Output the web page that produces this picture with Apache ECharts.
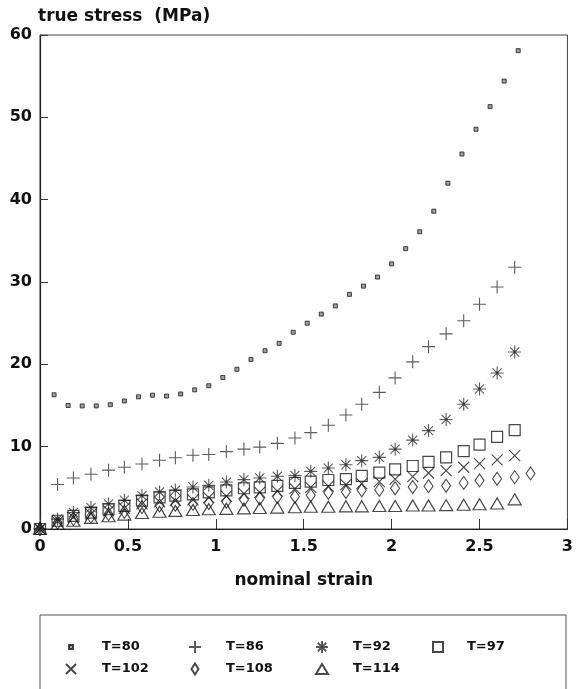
<!DOCTYPE html>
<html>
<head>
<meta charset="utf-8">
<script src="https://cdn.jsdelivr.net/npm/echarts@6/dist/echarts.min.js"></script>
<style>
  html, body { margin: 0; padding: 0; background: #fff; }
  #chart { width: 576px; height: 689px; }
</style>
</head>
<body>
<div id="chart"></div>
<script>
// Nominal strain grid for the T=80 run
const strainT80 = [0, 0.08, 0.16, 0.24, 0.32, 0.40, 0.48, 0.56, 0.64, 0.72, 0.80, 0.88,
  0.96, 1.04, 1.12, 1.20, 1.28, 1.36, 1.44, 1.52, 1.60, 1.68, 1.76, 1.84, 1.92, 2.00,
  2.08, 2.16, 2.24, 2.32, 2.40, 2.48, 2.56, 2.64, 2.72];
// Nominal strain grid shared by the other runs
const strain = [0, 0.10, 0.19, 0.29, 0.39, 0.48, 0.58, 0.68, 0.77, 0.87, 0.96, 1.06,
  1.16, 1.25, 1.35, 1.45, 1.54, 1.64, 1.74, 1.83, 1.93, 2.02, 2.12, 2.21, 2.31, 2.41,
  2.50, 2.60, 2.70, 2.79];

// True stress (MPa) per temperature
const stressT80 = [0, 16.3, 15.0, 14.95, 14.95, 15.1, 15.55, 16.05, 16.25, 16.15, 16.4,
  16.9, 17.4, 18.4, 19.4, 20.6, 21.65, 22.55, 23.9, 25.0, 26.1, 27.1, 28.5, 29.5, 30.6,
  32.2, 34.05, 36.1, 38.6, 42.0, 45.55, 48.55, 51.3, 54.4, 58.1];
const stressT86 = [0, 5.4, 6.2, 6.65, 7.15, 7.5, 7.9, 8.35, 8.65, 8.95, 9.05, 9.4, 9.7,
  9.95, 10.4, 11.05, 11.7, 12.6, 13.85, 15.15, 16.6, 18.35, 20.3, 22.15, 23.7, 25.3,
  27.3, 29.4, 31.8];
const stressT92 = [0, 1.2, 2.0, 2.6, 3.05, 3.5, 4.05, 4.5, 4.7, 5.1, 5.3, 5.7, 6.0, 6.2,
  6.4, 6.5, 7.0, 7.4, 7.8, 8.3, 8.7, 9.7, 10.8, 11.95, 13.3, 15.15, 17.0, 18.95, 21.5];
const stressT97 = [0, 1.0, 1.6, 2.0, 2.4, 2.8, 3.45, 3.85, 4.05, 4.2, 4.45, 4.7, 4.95,
  5.05, 5.25, 5.6, 5.75, 5.95, 6.05, 6.45, 6.85, 7.25, 7.65, 8.15, 8.7, 9.45, 10.25,
  11.2, 12.0];
const stressT102 = [0, 0.9, 1.4, 1.8, 2.2, 2.5, 3.05, 3.3, 3.45, 3.55, 3.8, 4.0, 4.3,
  4.45, 4.6, 4.9, 5.05, 5.2, 5.4, 5.5, 5.75, 6.05, 6.35, 6.8, 7.1, 7.5, 7.95, 8.4, 8.9];
const stressT108 = [0, 0.75, 1.2, 1.5, 1.8, 2.1, 2.65, 2.85, 2.95, 3.05, 3.15, 3.3,
  3.55, 3.7, 3.9, 3.95, 4.1, 4.4, 4.5, 4.7, 4.75, 4.95, 5.1, 5.2, 5.25, 5.6, 5.9, 6.1,
  6.3, 6.75];
const stressT114 = [0, 0.6, 1.0, 1.35, 1.55, 1.75, 1.95, 2.1, 2.2, 2.3, 2.4, 2.45, 2.5,
  2.55, 2.6, 2.65, 2.7, 2.7, 2.75, 2.75, 2.8, 2.8, 2.85, 2.85, 2.9, 2.95, 3.0, 3.1, 3.6];

const seriesNames = ['T=80', 'T=86', 'T=92', 'T=97', 'T=102', 'T=108', 'T=114'];
const xTicks = [0, 0.5, 1, 1.5, 2, 2.5, 3];
const yTicks = [0, 10, 20, 30, 40, 50, 60];

function pairs(xs, ys) {
  return ys.map((v, i) => [xs[i], v]);
}

// Marker outlines
const PLUS = 'path://M0,5L10,5M5,0L5,10';
const CROSS = 'path://M0,0L10,10M10,0L0,10';
const STAR = 'path://M5,0L5,10M0,5L10,5M1.5,1.5L8.5,8.5M8.5,1.5L1.5,8.5' +
  'M4.1,5A0.9,0.9 0 1,0 5.9,5A0.9,0.9 0 1,0 4.1,5Z';

const hollow = 'rgba(0,0,0,0)';
const ink = '#1a1a1a';
const font = 'DejaVu Sans';

const markerStyles = [
  { symbol: 'rect', symbolSize: 4, itemStyle: { color: '#888', borderColor: '#1a1a1a', borderWidth: 1 } },
  { symbol: PLUS, symbolSize: 13, itemStyle: { color: hollow, borderColor: '#333', borderWidth: 1.1 } },
  { symbol: STAR, symbolSize: 13, itemStyle: { color: '#111', borderColor: '#333', borderWidth: 1.1 } },
  { symbol: 'rect', symbolSize: 11, itemStyle: { color: hollow, borderColor: ink, borderWidth: 1.2 } },
  { symbol: CROSS, symbolSize: 11, itemStyle: { color: hollow, borderColor: ink, borderWidth: 1.1 } },
  { symbol: 'diamond', symbolSize: [9, 13], itemStyle: { color: hollow, borderColor: ink, borderWidth: 1.1 } },
  { symbol: 'triangle', symbolSize: [13, 11], itemStyle: { color: hollow, borderColor: ink, borderWidth: 1.2 } }
];

const seriesData = [
  pairs(strainT80, stressT80),
  pairs(strain, stressT86),
  pairs(strain, stressT92),
  pairs(strain, stressT97),
  pairs(strain, stressT102),
  pairs(strain, stressT108),
  pairs(strain, stressT114)
];

// Legend block: two rows, one legend component per entry
const legendLayout = [
  { cx: 70, tx: 101, cy: 647, w: 4, h: 4 },
  { cx: 194, tx: 225, cy: 647, w: 12, h: 12 },
  { cx: 321, tx: 352, cy: 647, w: 12, h: 12 },
  { cx: 437, tx: 466, cy: 647, w: 10, h: 10 },
  { cx: 70, tx: 101, cy: 669, w: 10, h: 10 },
  { cx: 194, tx: 225, cy: 669, w: 7, h: 11 },
  { cx: 321, tx: 352, cy: 669, w: 12, h: 10 }
];

const legends = legendLayout.map((L, i) => {
  const left = L.cx - L.w / 2;
  return {
    data: [seriesNames[i]],
    left: left,
    top: L.cy - 8,
    padding: 0,
    itemWidth: L.w,
    itemHeight: L.h,
    selectedMode: false,
    textStyle: {
      fontFamily: font, fontWeight: 'bold', fontSize: 13, color: '#111',
      lineHeight: 16, padding: [0, 0, 0, L.tx - (left + L.w + 5)]
    }
  };
});

const chart = echarts.init(document.getElementById('chart'), null, { renderer: 'canvas' });
chart.setOption({
  animation: false,
  backgroundColor: '#fff',
  grid: {
    left: 40, right: 6, top: 35, bottom: 160,
    show: true, borderColor: '#444', borderWidth: 1, backgroundColor: 'transparent'
  },
  xAxis: {
    type: 'value',
    min: xTicks[0], max: xTicks[xTicks.length - 1], interval: xTicks[1] - xTicks[0],
    name: 'nominal strain',
    nameLocation: 'middle',
    nameGap: 43,
    nameTextStyle: { fontFamily: font, fontWeight: 'bold', fontSize: 17, color: '#111' },
    axisLine: { show: true, lineStyle: { color: '#222', width: 1.2 } },
    axisTick: { show: true, inside: true, length: 10, lineStyle: { color: '#333' } },
    axisLabel: { fontFamily: font, fontWeight: 'bold', fontSize: 16, color: '#111', margin: 10 },
    splitLine: { show: false }
  },
  yAxis: {
    type: 'value',
    min: yTicks[0], max: yTicks[yTicks.length - 1], interval: yTicks[1] - yTicks[0],
    name: 'true stress  (MPa)',
    nameLocation: 'end',
    nameGap: 10,
    nameTextStyle: { fontFamily: font, fontWeight: 'bold', fontSize: 17, color: '#111', align: 'left', padding: [0, 0, 0, -2] },
    axisLine: { show: true, lineStyle: { color: '#222', width: 1.2 } },
    axisTick: { show: true, inside: true, length: 8, lineStyle: { color: '#333' } },
    axisLabel: { fontFamily: font, fontWeight: 'bold', fontSize: 16, color: '#111', margin: 8 },
    splitLine: { show: false }
  },
  legend: legends,
  graphic: [{
    type: 'rect',
    shape: { x: 40, y: 615, width: 526, height: 100 },
    style: { fill: 'none', stroke: '#555', lineWidth: 1 },
    silent: true
  }],
  series: seriesNames.map((name, i) => Object.assign({
    name: name,
    type: 'scatter',
    data: seriesData[i],
    emphasis: { disabled: true }
  }, markerStyles[i]))
});
</script>
</body>
</html>
